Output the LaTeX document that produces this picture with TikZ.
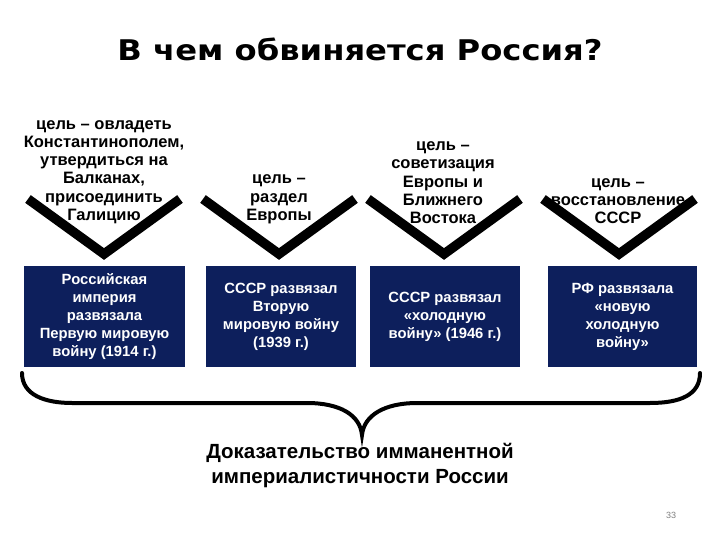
\documentclass[tikz,border=0pt]{standalone}
\usepackage{fontspec}
\setmainfont{Liberation Sans}
\newfontface\titlefont{DejaVu Sans Bold}
\definecolor{navy}{RGB}{13,31,92}
\begin{document}
\begin{tikzpicture}[x=1pt,y=-1pt,
  goal/.style={font=\fontsize{16.5}{18.3}\selectfont\bfseries, align=center, anchor=south, inner sep=0pt},
  box/.style={fill=navy, text=white, font=\fontsize{14.8}{18}\selectfont\bfseries, align=center, inner sep=0pt, minimum height=101pt},
  chev/.style={line width=9.5pt, line join=miter, draw=black},
  brace/.style={line width=4pt, draw=black, line cap=round}]
\useasboundingbox (0,0) rectangle (720,540);
\fill[white] (0,0) rectangle (720,540);
% title
\node[font={\titlefont\fontsize{28.5}{30}\selectfont}] (title) at (360,49) {\scalebox{1.13}[1]{В чем обвиняется Россия?}};
% chevrons
\draw[chev] (28,199) -- (104,254) -- (180,199);
\draw[chev] (203,199) -- (279,254) -- (355,199);
\draw[chev] (368,199) -- (444,254) -- (520,199);
\draw[chev] (543,199) -- (619,254) -- (695,199);
% goals
\node[goal] (g1) at (104,224) {цель – овладеть\\Константинополем,\\утвердиться на\\Балканах,\\присоединить\\Галицию};
\node[goal] (g2) at (279,224) {цель –\\раздел\\Европы};
\node[goal] (g3) at (443,224) {цель –\\советизация\\Европы и\\Ближнего\\Востока};
\node[goal] (g4) at (618,224) {цель –\\восстановление\\СССР};
% boxes
\node[box, minimum width=161pt] (b1) at (104.5,316.5) {Российская\\империя\\развязала\\Первую мировую\\войну (1914 г.)};
\node[box, minimum width=150pt] (b2) at (281,316.5) {СССР развязал\\Вторую\\мировую войну\\(1939 г.)};
\node[box, minimum width=150pt] (b3) at (445,316.5) {СССР развязал\\«холодную\\войну» (1946 г.)};
\node[box, minimum width=149pt] (b4) at (622.5,316.5) {РФ развязала\\«новую\\холодную\\войну»};
% brace
\draw[brace] (22,373) .. controls (22,395) and (45,403) .. (72,403) -- (307,403)
  .. controls (340,403) and (360,415) .. (362,435)
  .. controls (364,415) and (385,403) .. (417,403) -- (650,403)
  .. controls (680,403) and (700,395) .. (700,373);
% conclusion
\node[font=\fontsize{20.5}{25}\selectfont\bfseries, align=center] (concl) at (360,465) {Доказательство имманентной\\империалистичности России};
\node[font=\fontsize{9}{10}\selectfont, text=gray] (pg) at (671,515) {33};
\end{tikzpicture}
\end{document}
